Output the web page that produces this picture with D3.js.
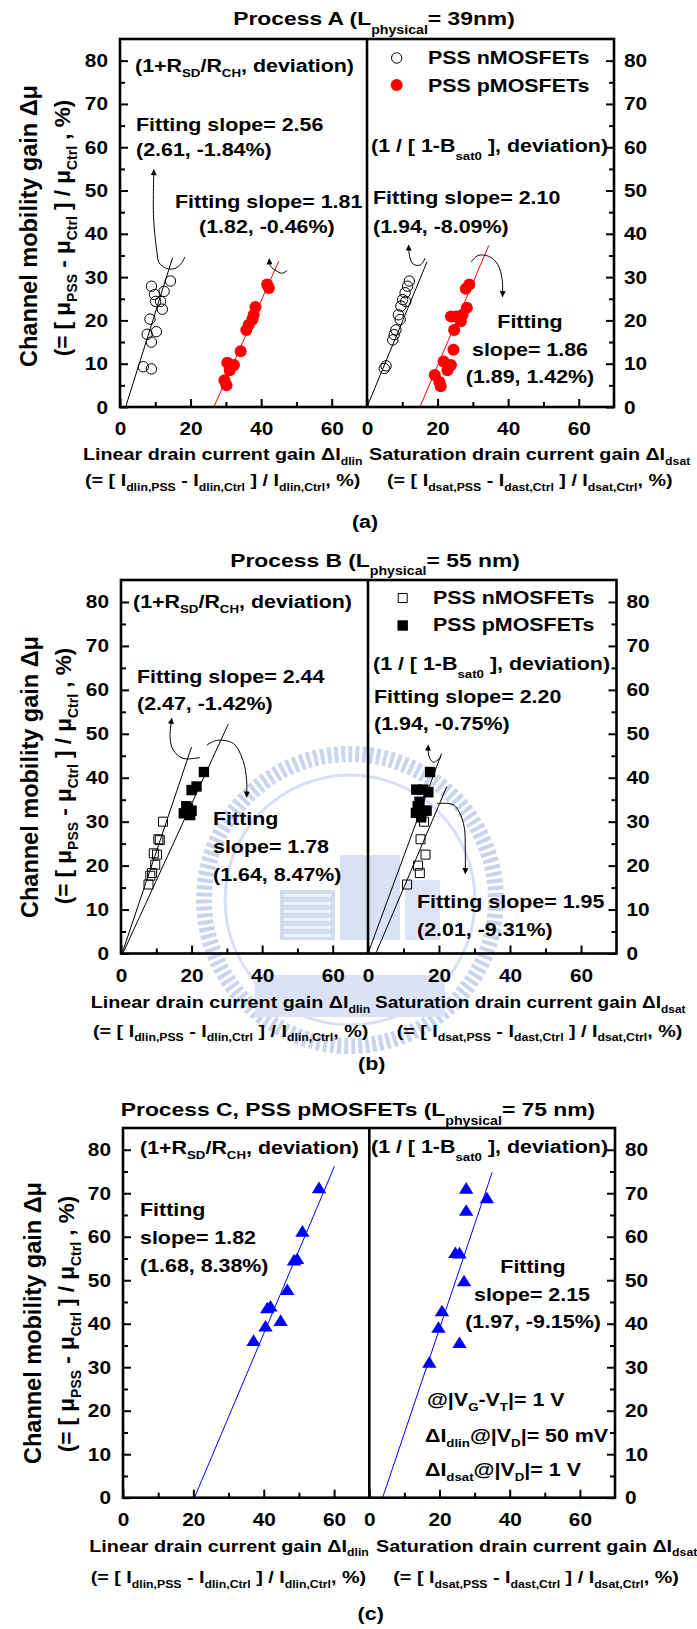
<!DOCTYPE html>
<html>
<head>
  <meta charset="utf-8">
  <title>PSS mobility gain vs drain current gain</title>
  <style>
    body { margin: 0; background: #fff; }
    svg { display: block; }
    text { font-family: "Liberation Sans", Arial, sans-serif; font-weight: bold; fill: #000; white-space: pre; }
  </style>
</head>
<body>
  <div id="chart"></div>

  <script src="https://d3js.org/d3.v7.min.js"></script>
  <script>

  var W = 697, H = 1629;

  // ---- data ----
  var yDomain = [0, 85], xDomain = [0, 70];
  var yTicks = [0, 10, 20, 30, 40, 50, 60, 70, 80];
  var yMinor = [5, 15, 25, 35, 45, 55, 65, 75];
  var xTicks = [0, 20, 40, 60];
  var xMinor = [10, 30, 50];

  // process A
  var aLinN = [[14.3,29.1],[8.9,27.9],[12.5,26.7],[9.8,26.0],[10.1,24.4],[11.5,24.4],[12.0,22.6],[8.5,20.3],[7.7,16.8],[10.3,17.4],[8.9,15.0],[6.6,9.3],[8.9,8.8]];
  var aLinP = [[41.7,28.3],[42.2,27.5],[38.4,23.1],[37.9,21.3],[37.5,20.2],[36.5,19.0],[35.8,17.8],[34.2,12.9],[30.4,10.2],[32.3,9.7],[31.1,8.5],[29.6,6.2],[30.2,5.0]];
  var aSatN = [[12.0,29.1],[11.5,27.9],[10.8,26.4],[10.1,24.8],[11.0,24.4],[9.6,23.3],[8.9,21.3],[9.4,20.2],[8.2,17.8],[7.7,16.7],[7.3,15.5],[5.4,9.5],[4.9,8.9]];
  var aSatP = [[29.0,28.3],[28.0,27.3],[28.3,22.9],[23.8,20.9],[25.2,20.9],[27.1,21.3],[26.6,19.8],[24.7,17.8],[24.5,13.2],[21.7,10.5],[23.8,9.7],[22.8,8.5],[19.2,7.4],[20.5,5.8],[20.9,4.8]];
  var aLinFitN = [[1.6,0],[14.9,34.5]], aLinFitP = [[26.6,0],[45,33.7]];
  var aSatFitN = [[0,0],[17,33.5]],    aSatFitP = [[15,0],[34.5,37.3]];
  var aLinArrN = [[18.4,34.7],[17.5,33.3],[15.6,32.0],[13.2,32.0],[11.1,33.3],[10.4,36.3],[9.5,44.0],[9.6,54.8]];
  var aLinArrP = [[47.4,31.5],[45.9,30.9],[44.2,31.5],[42.7,32.5],[42.3,34.2]];
  var aSatArrN = [[16.5,34.4],[15.1,32.8],[13.1,33.0],[12.1,34.7],[11.8,37.4]];
  var aSatArrP = [[29.5,33.5],[31.5,35.0],[34.5,34.8],[37.0,33.0],[38.3,29.5],[38.4,25.5]];

  // process B
  var bLinN = [[11.9,30.0],[11.0,25.8],[10.6,26.0],[9.3,22.8],[10.2,22.5],[9.7,20.2],[8.8,18.3],[8.3,17.7],[7.8,15.7]];
  var bLinP = [[23.5,41.3],[21.4,38.0],[20.0,37.2],[19.0,33.0],[19.6,31.5],[17.8,31.9],[18.5,33.5],[20.0,32.5]];
  var bSatN = [[15.8,30.0],[14.8,26.0],[16.2,22.5],[14.1,20.0],[14.6,18.3],[11.0,15.7]];
  var bSatP = [[17.5,41.3],[13.6,37.3],[15.6,37.3],[17.0,36.7],[14.0,33.5],[15.5,32.5],[13.5,32.0],[15.0,31.0],[16.5,32.5],[14.5,34.5]];
  var bLinFitN = [[0.3,0],[20,47]],   bLinFitP = [[0.5,0],[30.4,52.2]];
  var bSatFitN = [[0,0],[20.7,45.5]], bSatFitP = [[2.2,0],[22.2,38]];
  var bLinArrN = [[22.4,44.6],[17.6,44.4],[14.8,46.3],[13.9,49.3],[14.4,53.5]];
  var bLinArrP = [[24.3,47.4],[27.1,48.5],[31.8,47.8],[34.6,43.9],[35.6,39.4],[35.6,35.6]];
  var bSatArrN = [[20.6,44.7],[18.4,43.5],[17.1,45.1],[17.0,47.4]];
  var bSatArrP = [[19.4,34.1],[24.1,33.8],[26.9,29.6],[27.4,23.5],[27.4,18.2]];

  // process C (pMOSFETs only)
  var cLinP = [[55.7,71.2],[51.0,61.2],[49.5,54.9],[48.6,54.6],[46.7,47.8],[41.9,44.0],[41.0,43.6],[44.8,40.7],[40.5,39.4],[37.1,36.1]];
  var cSatP = [[27.6,71.1],[33.5,68.9],[27.6,66.0],[24.5,56.3],[25.7,56.2],[27.0,49.8],[20.7,42.9],[19.7,39.1],[25.7,35.6],[17.1,31.1]];
  var cLinFit = [[20.3,0],[60.1,76.2]], cSatFit = [[3.8,0],[35,74.8]];

  var yTitle1 = 'Channel mobility gain Δμ';
  var yTitle2 = '(= [ μ_{PSS} - μ_{Ctrl} ] / μ_{Ctrl} , %)';
  var xTitleLin = 'Linear drain current gain ΔI_{dlin}';
  var xTitleSat = 'Saturation drain current gain ΔI_{dsat}';
  var xSubLin = '(= [ I_{dlin,PSS} - I_{dlin,Ctrl} ] / I_{dlin,Ctrl}, %)';
  var xSubSat = '(= [ I_{dsat,PSS} - I_{dast,Ctrl} ] / I_{dsat,Ctrl}, %)';
  var linTag = '(1+R_{SD}/R_{CH}, deviation)';
  var satTag = '(1 / [ 1-B__{sat0} ], deviation)';

  // ---- helpers ----
  var SX = 1.19;   // the original text is a bit wide

  var svg = d3.select('#chart').append('svg')
    .attr('width', W).attr('height', H);
  svg.append('rect').attr('width', W).attr('height', H).attr('fill', '#fff');

  var defs = svg.append('defs');
  defs.append('marker').attr('id', 'head')
    .attr('viewBox', '0 0 10 10').attr('refX', 9).attr('refY', 5)
    .attr('markerUnits', 'userSpaceOnUse')
    .attr('markerWidth', 7).attr('markerHeight', 6)
    .attr('orient', 'auto')
    .append('path').attr('d', 'M0,0 L10,5 L0,10 z').attr('fill', '#000');

  // "_{x}" = subscript, "__{x}" = lower subscript
  function rich(t, str, size){
    var parts = str.split(/(_{1,2}\{[^}]*\})/).filter(function(p){ return p.length; });
    var off = 0;
    parts.forEach(function(p){
      var m = p.match(/^(_{1,2})\{([^}]*)\}$/);
      var ts = t.append('tspan');
      if(m){
        var sh = (m[1].length == 2 ? 0.45 : 0.3) * size;
        ts.text(m[2]).attr('font-size', size * 0.62).attr('dy', sh - off);
        off = sh;
      } else {
        ts.text(p).attr('font-size', size).attr('dy', -off);
        off = 0;
      }
    });
  }

  function label(g, x, y, str, size, anchor, sx){
    var t = g.append('text')
      .attr('transform', 'translate(' + x + ',' + y + ') scale(' + (sx || SX) + ',1)')
      .attr('text-anchor', anchor || 'start')
      .attr('font-size', size);
    rich(t, str, size);
    return t;
  }

  function vlabel(g, x, y, str, size){
    var t = g.append('text')
      .attr('transform', 'translate(' + x + ',' + y + ') rotate(-90)')
      .attr('text-anchor', 'middle')
      .attr('font-size', size);
    rich(t, str, size);
  }

  function marks(g, xs, ys, data, kind){
    var sel = g.append('g').selectAll('path').data(data).enter().append('path')
      .attr('transform', function(d){ return 'translate(' + xs(d[0]) + ',' + ys(d[1]) + ')'; });
    symbol(sel, kind);
  }

  function symbol(sel, kind){
    if(kind == 'circle')
      sel.attr('d', d3.symbol(d3.symbolCircle, Math.PI * 27)).attr('fill', 'none').attr('stroke', '#000').attr('stroke-width', 1);
    else if(kind == 'dot')
      sel.attr('d', d3.symbol(d3.symbolCircle, Math.PI * 36)).attr('fill', '#ff0000');
    else if(kind == 'sq')
      sel.attr('d', 'M-4.5,-4.5H4.5V4.5H-4.5Z').attr('fill', 'none').attr('stroke', '#000').attr('stroke-width', 1);
    else if(kind == 'fsq')
      sel.attr('d', 'M-5.2,-5.2H5.2V5.2H-5.2Z').attr('fill', '#000');
    else if(kind == 'tri')
      sel.attr('d', 'M-7.2,5.2L7.2,5.2L0,-6.4Z').attr('fill', '#0000ff');
  }

  function fit(g, xs, ys, pts, color){
    g.append('path')
      .attr('d', d3.line().x(function(d){ return xs(d[0]); }).y(function(d){ return ys(d[1]); })(pts))
      .attr('fill', 'none').attr('stroke', color).attr('stroke-width', 1);
  }

  function arrow(g, xs, ys, pts){
    g.append('path')
      .attr('d', d3.line().curve(d3.curveCatmullRom.alpha(0.5))
        .x(function(d){ return xs(d[0]); }).y(function(d){ return ys(d[1]); })(pts))
      .attr('fill', 'none').attr('stroke', '#000').attr('stroke-width', 1)
      .attr('marker-end', 'url(#head)');
  }

  function styleAxis(a, dx, dy){
    a.select('.domain').remove();
    a.selectAll('line').attr('stroke', '#000').attr('stroke-width', 2);
    a.selectAll('text')
      .attr('x', null).attr('y', null).attr('dy', null)
      .attr('font-size', 17.5).attr('font-family', null)
      .attr('transform', 'translate(' + dx + ',' + dy + ') scale(' + SX + ',1)');
  }

  // faint school emblem watermark behind panel (b), shapes only
  function watermark(cx, cy){
    var wm = svg.append('g').attr('opacity', 0.45);
    wm.append('circle').attr('cx', cx).attr('cy', cy).attr('r', 146)
      .attr('fill', 'none').attr('stroke', '#8ea2dc').attr('stroke-width', 16)
      .attr('stroke-dasharray', '4 3');
    wm.append('circle').attr('cx', cx).attr('cy', cy).attr('r', 125)
      .attr('fill', 'none').attr('stroke', '#a9b8e6').attr('stroke-width', 3);
    // building
    wm.append('rect').attr('x', cx - 70).attr('y', cy - 10).attr('width', 55).attr('height', 50)
      .attr('fill', '#9fb0e2');
    d3.range(6).forEach(function(i){
      wm.append('rect').attr('x', cx - 66).attr('y', cy - 6 + i * 8).attr('width', 47).attr('height', 3)
        .attr('fill', '#dfe5f7');
    });
    wm.append('rect').attr('x', cx - 10).attr('y', cy - 45).attr('width', 60).attr('height', 85)
      .attr('fill', '#aebde8');
    wm.append('rect').attr('x', cx + 55).attr('y', cy - 20).attr('width', 35).attr('height', 60)
      .attr('fill', '#b8c5ec');
    // ribbon
    wm.append('rect').attr('x', cx - 95).attr('y', cy + 75).attr('width', 190).attr('height', 42)
      .attr('fill', '#b3c1ea');
  }

  function drawPanel(p){
    var b = p.box;
    var g = svg.append('g');
    var y  = d3.scaleLinear().domain(yDomain).range([b.bottom, b.top]);
    var xl = d3.scaleLinear().domain(xDomain).range([b.left, b.mid]);
    var xr = d3.scaleLinear().domain(xDomain).range([b.mid, b.right]);

    // fits and arrows
    p.linFits.forEach(function(f){ fit(g, xl, y, f[0], f[1]); });
    p.satFits.forEach(function(f){ fit(g, xr, y, f[0], f[1]); });
    p.linArrows.forEach(function(a){ arrow(g, xl, y, a); });
    p.satArrows.forEach(function(a){ arrow(g, xr, y, a); });

    // markers
    p.linSeries.forEach(function(s){ marks(g, xl, y, s[0], s[1]); });
    p.satSeries.forEach(function(s){ marks(g, xr, y, s[0], s[1]); });

    // axes (ticks point inward)
    var ax;
    ax = g.append('g').attr('transform', 'translate(' + b.left + ',0)')
      .call(d3.axisLeft(y).tickValues(yMinor).tickSize(-5).tickFormat(''));
    styleAxis(ax, 0, 0);
    ax = g.append('g').attr('transform', 'translate(' + b.left + ',0)')
      .call(d3.axisLeft(y).tickValues(yTicks).tickSize(-8));
    styleAxis(ax, -12, 6);
    ax = g.append('g').attr('transform', 'translate(' + b.right + ',0)')
      .call(d3.axisRight(y).tickValues(yMinor).tickSize(-5).tickFormat(''));
    styleAxis(ax, 0, 0);
    ax = g.append('g').attr('transform', 'translate(' + b.right + ',0)')
      .call(d3.axisRight(y).tickValues(yTicks).tickSize(-8));
    styleAxis(ax, 10, 6);
    [xl, xr].forEach(function(xs){
      ax = g.append('g').attr('transform', 'translate(0,' + b.bottom + ')')
        .call(d3.axisBottom(xs).tickValues(xMinor).tickSize(-5).tickFormat(''));
      styleAxis(ax, 0, 0);
      ax = g.append('g').attr('transform', 'translate(0,' + b.bottom + ')')
        .call(d3.axisBottom(xs).tickValues(xTicks).tickSize(-8));
      styleAxis(ax, 0, 28);
    });

    // frame and divider
    g.append('rect').attr('x', b.left).attr('y', b.top)
      .attr('width', b.right - b.left).attr('height', b.bottom - b.top)
      .attr('fill', 'none').attr('stroke', '#000').attr('stroke-width', 2.6);
    g.append('line').attr('x1', b.mid).attr('x2', b.mid).attr('y1', b.top).attr('y2', b.bottom)
      .attr('stroke', '#000').attr('stroke-width', 2.6);

    // legend
    (p.legend || []).forEach(function(l){
      symbol(g.append('path').attr('transform', 'translate(' + l[0] + ',' + l[1] + ')'), l[2]);
      label(g, l[3], l[4], l[5], 18);
    });

    // texts
    label(g, p.title[0], p.title[1], p.title[2], 19.2, 'middle');
    p.notes.forEach(function(n){ label(g, n[0], n[1], n[2], 18, n[3]); });
    vlabel(g, p.yt[0], p.yt[1], yTitle1, 23.5);
    vlabel(g, p.yt[2], p.yt[3], yTitle2, 22.5);
    label(g, p.xt[0], p.xt[1], xTitleLin, 16.6);
    label(g, p.xt[2], p.xt[1], xTitleSat, 16.6, 'start', p.xsx);
    label(g, p.xt[3], p.xt[4], xSubLin, 16.6);
    label(g, p.xt[5], p.xt[4], xSubSat, 16.6);
    label(g, p.tag[0], p.tag[1], p.tag[2], 18, 'middle');
  }

  watermark(350, 900);

  drawPanel({
    box: {left: 120, mid: 367, right: 614, top: 39, bottom: 407},
    title: [374, 25, 'Process A (L__{physical}= 39nm)'],
    linSeries: [[aLinN, 'circle'], [aLinP, 'dot']],
    satSeries: [[aSatN, 'circle'], [aSatP, 'dot']],
    linFits: [[aLinFitN, '#000'], [aLinFitP, '#ff0000']],
    satFits: [[aSatFitN, '#000'], [aSatFitP, '#ff0000']],
    linArrows: [aLinArrN, aLinArrP],
    satArrows: [aSatArrN, aSatArrP],
    legend: [[396.7, 58, 'circle', 428, 64, 'PSS nMOSFETs'], [396.7, 85, 'dot', 428, 91.5, 'PSS pMOSFETs']],
    notes: [
      [135, 72, linTag],
      [136, 131, 'Fitting slope= 2.56'],
      [136, 156, '(2.61, -1.84%)'],
      [175, 208, 'Fitting slope= 1.81'],
      [199, 233, '(1.82, -0.46%)'],
      [371, 151.5, satTag],
      [373, 204, 'Fitting slope= 2.10'],
      [373, 233, '(1.94, -8.09%)'],
      [530, 328, 'Fitting', 'middle'],
      [530, 356, 'slope= 1.86', 'middle'],
      [530, 383, '(1.89, 1.42%)', 'middle']
    ],
    yt: [37, 226, 70, 228],
    xt: [83, 460, 369, 85, 486, 387],
    tag: [365, 528, '(a)']
  });

  drawPanel({
    box: {left: 121, mid: 368, right: 616.5, top: 580, bottom: 953.5},
    title: [375, 566.5, 'Process B (L__{physical}= 55 nm)'],
    linSeries: [[bLinN, 'sq'], [bLinP, 'fsq']],
    satSeries: [[bSatN, 'sq'], [bSatP, 'fsq']],
    linFits: [[bLinFitN, '#000'], [bLinFitP, '#000']],
    satFits: [[bSatFitN, '#000'], [bSatFitP, '#000']],
    linArrows: [bLinArrN, bLinArrP],
    satArrows: [bSatArrN, bSatArrP],
    legend: [[402.7, 598, 'sq', 433, 604, 'PSS nMOSFETs'], [402.7, 625.5, 'fsq', 433, 631, 'PSS pMOSFETs']],
    notes: [
      [133, 607.5, linTag],
      [137, 682.5, 'Fitting slope= 2.44'],
      [137, 710, '(2.47, -1.42%)'],
      [213, 824.5, 'Fitting'],
      [213, 852.5, 'slope= 1.78'],
      [213, 880.5, '(1.64, 8.47%)'],
      [373, 670, satTag],
      [374, 702.5, 'Fitting slope= 2.20'],
      [374, 730, '(1.94, -0.75%)'],
      [417, 907.5, 'Fitting slope= 1.95'],
      [417, 936, '(2.01, -9.31%)']
    ],
    yt: [38, 777, 71, 776],
    xt: [90.7, 1008, 375, 93, 1036.5, 396.7],
    xsx: 1.15,
    tag: [371.7, 1070, '(b)']
  });

  drawPanel({
    box: {left: 123, mid: 369.3, right: 615, top: 1128, bottom: 1497.7},
    title: [358, 1116, 'Process C, PSS pMOSFETs (L__{physical}= 75 nm)'],
    linSeries: [[cLinP, 'tri']],
    satSeries: [[cSatP, 'tri']],
    linFits: [[cLinFit, '#0000ff']],
    satFits: [[cSatFit, '#0000ff']],
    linArrows: [],
    satArrows: [],
    notes: [
      [140, 1154, linTag],
      [140, 1216, 'Fitting'],
      [140, 1244, 'slope= 1.82'],
      [140, 1271.5, '(1.68, 8.38%)'],
      [371, 1153.3, satTag],
      [533, 1272.5, 'Fitting', 'middle'],
      [532, 1300.5, 'slope= 2.15', 'middle'],
      [533, 1328.3, '(1.97, -9.15%)', 'middle'],
      [427, 1406, '@|V_{G}-V_{T}|= 1 V'],
      [425, 1441.5, 'ΔI_{dlin}@|V_{D}|= 50 mV'],
      [425, 1476, 'ΔI_{dsat}@|V_{D}|= 1 V']
    ],
    yt: [41, 1323, 74, 1324],
    xt: [89.3, 1551.5, 376, 90.7, 1583, 393.3],
    tag: [370.7, 1620, '(c)']
  });

  </script>
</body>
</html>
